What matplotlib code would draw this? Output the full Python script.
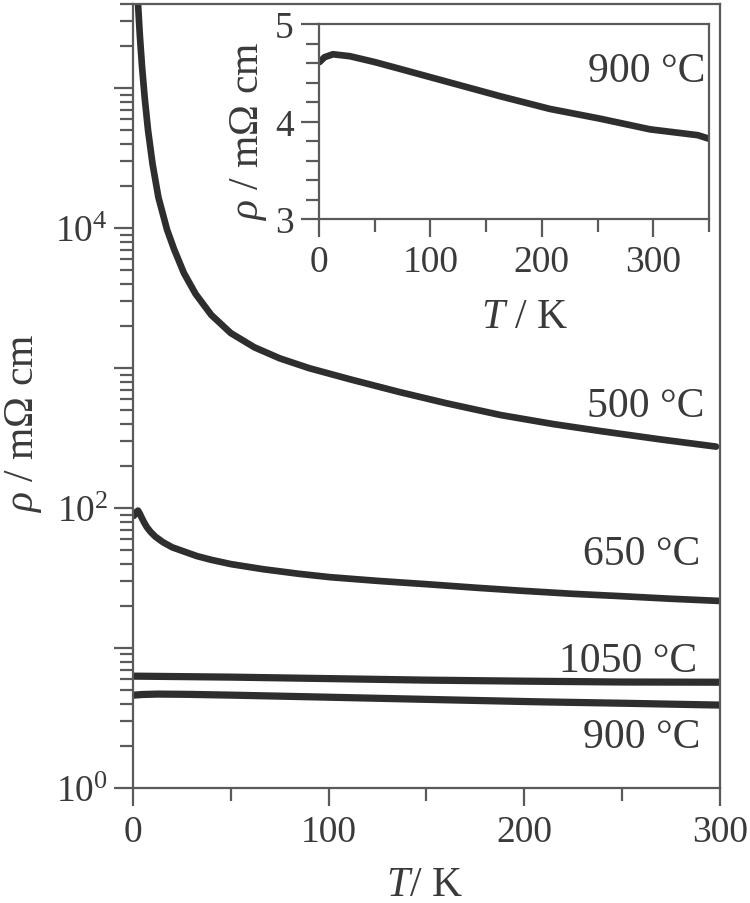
import numpy as np
import matplotlib
matplotlib.use("Agg")
import matplotlib.pyplot as plt
from matplotlib.ticker import LogLocator, FuncFormatter, MultipleLocator, NullFormatter

# --- data (T in K, rho in mOhm cm) ---
t_500 = [2.6, 3.5, 4.6, 6, 7.7, 10, 13, 17.4, 21, 26, 32, 40, 50, 62, 75, 90,
         111, 136, 160, 188, 215, 239, 270, 298]
rho_500 = [3.98e5, 2.40e5, 1.445e5, 8.51e4, 5.01e4, 2.88e4, 1.66e4, 9.77e3, 7.08e3,
           4.79e3, 3.39e3, 2.40e3, 1.78e3, 1.41e3, 1.175e3, 1.0e3,
           832, 676, 562, 462, 398, 355, 309, 275]

t_650 = [0.5, 1.5, 2.6, 3.5, 4.5, 5.8, 7.1, 9, 11.5, 15.3, 20, 26, 32.7, 40, 50,
         66.5, 85, 100.7, 125, 150, 175, 198, 225, 249, 275, 300]
rho_650 = [88.1, 93.3, 95.9, 91.2, 85.1, 78.5, 73.1, 67.6, 62.4, 57.1, 52.5, 49.0,
           45.4, 42.7, 39.8, 36.6, 33.9, 32.1, 30.2, 28.6, 27.0, 25.7, 24.4, 23.5,
           22.5, 21.7]

t_1050 = [0.5, 50, 100, 150, 200, 250, 300]
rho_1050 = [6.3, 6.2, 6.05, 5.9, 5.8, 5.72, 5.7]

t_900 = [0.5, 5, 12.6, 27.8, 50, 72.7, 117.6, 162.5, 207, 252, 297, 340, 351]
rho_900 = [4.61, 4.66, 4.69, 4.67, 4.61, 4.54, 4.40, 4.26, 4.13, 4.03, 3.92, 3.86, 3.82]

labels_main = ["500 °C", "650 °C", "1050 °C", "900 °C"]
label_inset = "900 °C"

plt.rcParams['font.family'] = ['Liberation Serif', 'DejaVu Serif']
plt.rcParams['mathtext.fontset'] = 'custom'
plt.rcParams['mathtext.rm'] = 'Liberation Serif'
plt.rcParams['mathtext.it'] = 'Liberation Serif:italic'
plt.rcParams['mathtext.bf'] = 'Liberation Serif:bold'

ink = '#2e2e2e'
axc = '#5a5a5a'
txt = '#3a3a3a'
fs = 27      # tick labels
fl = 30      # axis labels and curve labels

fig = plt.figure(figsize=(7.5, 9.04), dpi=100)
ax = fig.add_axes([0.1773, 0.1272, 0.96 - 0.1773, 0.9945 - 0.1272])

lw = 4.8
ax.plot(t_500, rho_500, color=ink, lw=lw, solid_capstyle='round')
ax.plot(t_650, rho_650, color=ink, lw=lw, solid_capstyle='round')
ax.plot(t_1050, rho_1050, color=ink, lw=lw + 0.4, solid_capstyle='round')
ax.plot(t_900, rho_900, color=ink, lw=lw + 0.4, solid_capstyle='round')

ax.set_yscale('log')
ax.set_xlim(0, 300)
ax.set_ylim(1, 4e5)

ax.xaxis.set_major_locator(MultipleLocator(100))
ax.xaxis.set_minor_locator(MultipleLocator(50))
ax.yaxis.set_major_locator(LogLocator(base=10, numticks=10))
ax.yaxis.set_minor_locator(LogLocator(base=10, subs=np.arange(2, 10), numticks=20))
ax.yaxis.set_minor_formatter(NullFormatter())


def even_decades(v, pos):
    e = int(round(np.log10(v)))
    return r'$10^{%d}$' % e if e % 2 == 0 else ''


ax.yaxis.set_major_formatter(FuncFormatter(even_decades))

for s in ax.spines.values():
    s.set_color(axc)
    s.set_linewidth(1.6)

ax.tick_params(which='major', direction='out', length=14, width=1.6, color=axc,
               labelsize=fs, labelcolor=txt, pad=4)
ax.tick_params(which='minor', direction='out', length=9.5, width=1.6, color=axc)
ax.tick_params(axis='x', which='major', length=13, pad=6)
ax.tick_params(axis='x', which='minor', length=9)

ax.set_xlabel(r'$T$/ K', fontsize=fl, color=txt)
ax.set_ylabel(r'$\rho$ / mΩ cm', fontsize=fl, color=txt)
ax.xaxis.set_label_coords(0.497, -0.099)
ax.yaxis.set_label_coords(-0.152, 0.466)

text_pos = [(0.974, 0.4745), (0.966, 0.2857), (0.961, 0.149), (0.966, 0.0523)]
for lab, (px, py) in zip(labels_main, text_pos):
    ax.text(px, py, lab, transform=ax.transAxes, ha='right', va='baseline',
            fontsize=fl, color=txt)

# --- inset ---
ins = fig.add_axes([0.4253, 0.7566, 0.9453 - 0.4253, 0.9723 - 0.7566])
ins.plot(t_900, rho_900, color=ink, lw=lw, solid_capstyle='round')
ins.set_xlim(0, 350)
ins.set_ylim(3, 5)
ins.xaxis.set_major_locator(MultipleLocator(100))
ins.xaxis.set_minor_locator(MultipleLocator(50))
ins.yaxis.set_major_locator(MultipleLocator(1))
ins.yaxis.set_minor_locator(MultipleLocator(0.2))
for s in ins.spines.values():
    s.set_color(axc)
    s.set_linewidth(1.6)
ins.tick_params(which='major', direction='out', length=13, width=1.6, color=axc,
                labelsize=fs, labelcolor=txt, pad=5)
ins.tick_params(which='minor', direction='out', length=9.5, width=1.6, color=axc)
ins.set_xlabel(r'$T$ / K', fontsize=fl, color=txt)
ins.set_ylabel(r'$\rho$ / mΩ cm', fontsize=fl, color=txt)
ins.xaxis.set_label_coords(0.528, -0.40)
ins.yaxis.set_label_coords(-0.128, 0.456)
ins.text(0.99, 0.708, label_inset, transform=ins.transAxes, ha='right', va='baseline',
         fontsize=fl, color=txt)

fig.savefig('out.png', dpi=100)
